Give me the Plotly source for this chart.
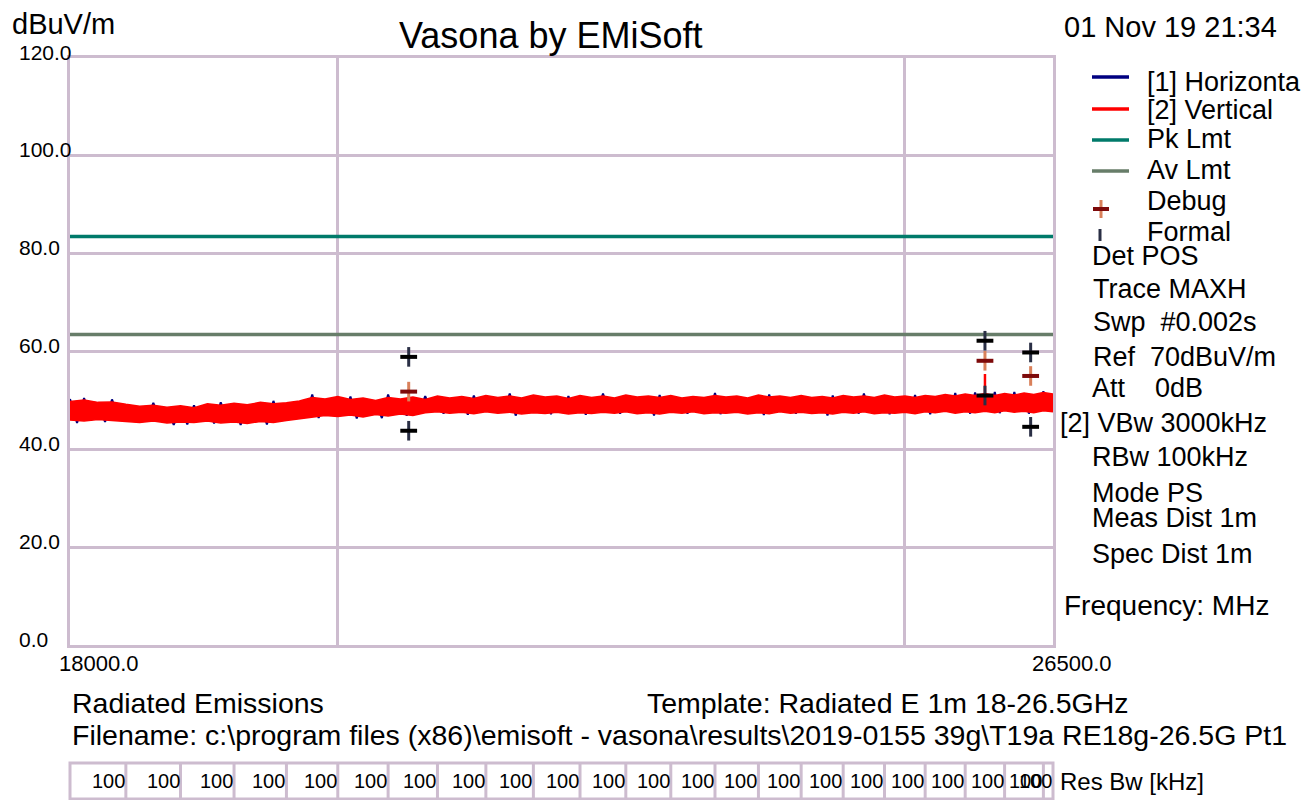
import math
import plotly.graph_objects as go

# ---------------- data ----------------
freq_min, freq_max = 18000, 26500

env_freq = list(range(18000, 26501, 100))
vert_max = [49.8, 50.1, 49.6, 49.7, 49.2, 48.8, 49.0, 48.6, 48.9, 48.5,
            49.3, 49.0, 49.4, 49.1, 49.6, 49.3, 49.5, 49.9, 50.6, 50.3,
            50.8, 50.2, 50.5, 50.0, 50.6, 50.3, 50.7, 50.2, 50.9, 50.5,
            50.8, 50.4, 51.0, 50.6, 50.9, 50.5, 51.1, 50.7, 50.9, 50.4,
            51.0, 50.6, 50.9, 50.5, 51.1, 50.7, 50.9, 50.6, 51.0, 50.5,
            50.8, 50.6, 51.0, 50.7, 50.9, 50.5, 51.1, 50.7, 50.9, 50.6,
            51.0, 50.6, 50.8, 50.5, 51.0, 50.7, 50.9, 50.6, 51.1, 50.7,
            50.9, 50.6, 51.0, 50.8, 51.2, 50.9, 51.3, 51.0, 51.4, 51.0,
            51.4, 51.1, 51.5, 51.2, 51.6, 51.3]
vert_min = [46.0, 45.8, 46.1, 45.9, 45.7, 45.5, 45.8, 45.4, 45.6, 45.5,
            45.8, 45.4, 45.6, 45.3, 45.7, 45.5, 45.9, 46.2, 46.6, 46.9,
            46.7, 47.0, 46.6, 47.1, 46.8, 47.2, 46.9, 47.5, 47.7, 47.4,
            47.6, 47.3, 47.7, 47.4, 47.6, 47.2, 47.5, 47.3, 47.6, 47.2,
            47.5, 47.3, 47.6, 47.4, 47.7, 47.3, 47.5, 47.2, 47.6, 47.4,
            47.7, 47.3, 47.5, 47.4, 47.6, 47.2, 47.5, 47.3, 47.7, 47.4,
            47.6, 47.3, 47.5, 47.2, 47.6, 47.4, 47.7, 47.3, 47.5, 47.4,
            47.6, 47.3, 47.7, 47.5, 47.8, 47.4, 47.7, 47.5, 47.8, 47.5,
            47.9, 47.6, 47.8, 47.5, 47.9, 47.7]

hor_top_freq = list(range(18000, 26501, 100))
hor_top = [50.3, 50.5, 49.4, 50.2, 48.9, 48.6, 49.5, 48.4, 48.7, 49.0,
           49.1, 49.6, 49.2, 48.9, 49.5, 49.9, 49.3, 49.7, 51.2, 50.1,
           50.6, 50.8, 50.3, 49.8, 51.2, 50.1, 50.5, 50.9, 50.7, 50.3,
           50.6, 51.0, 50.8, 50.4, 51.4, 50.3, 50.9, 50.5, 50.7, 50.9,
           50.8, 50.4, 51.4, 50.3, 50.9, 50.5, 50.7, 51.1, 50.8, 50.3,
           50.6, 50.4, 51.5, 50.5, 50.7, 50.3, 50.9, 51.2, 50.7, 50.4,
           50.8, 50.4, 50.6, 51.0, 50.8, 50.5, 51.4, 50.4, 50.9, 50.5,
           50.7, 51.1, 50.8, 50.6, 51.0, 51.5, 51.1, 51.6, 51.2, 51.7,
           51.2, 51.7, 51.3, 51.0, 51.9, 51.1]
hor_bot_freq = list(range(18050, 26451, 100))
hor_bot = [45.4, 45.9, 45.6, 46.0, 45.8, 45.7, 45.8, 45.0, 45.1, 45.8,
           45.3, 45.7, 45.0, 45.6, 45.1, 45.8, 46.2, 46.5, 46.4, 46.9,
           47.0, 46.3, 47.0, 46.4, 47.2, 46.9, 47.4, 47.8, 47.3, 47.7,
           47.1, 47.7, 47.5, 47.8, 46.9, 47.6, 47.6, 47.2, 47.7, 47.6,
           47.1, 47.7, 47.7, 47.3, 47.7, 47.6, 46.9, 47.6, 47.7, 47.3,
           47.7, 47.6, 47.2, 47.7, 47.6, 47.6, 47.0, 47.7, 47.7, 47.3,
           47.7, 47.6, 46.9, 47.6, 47.7, 47.3, 47.7, 47.6, 47.2, 47.7,
           47.6, 47.7, 47.2, 47.8, 47.8, 47.7, 47.3, 47.8, 47.8, 47.4,
           47.9, 47.8, 47.3, 47.9, 47.9]

vert_spike_freq = [25800]
vert_spike_top = [55.4]

pk_limit = 83.5
av_limit = 63.5

formal_freq = [20566, 20566, 25800, 25800, 26268, 26268]
formal_level = [58.9, 43.8, 62.2, 51.0, 59.8, 44.6]
debug_freq = [20566, 25800, 26268]
debug_level = [51.8, 58.1, 55.0]

y_tick_vals = [0, 20, 40, 60, 80, 100, 120]
x_grid_vals = [20000, 25000]
x_tick_vals = [18000, 26500]
x_tick_text = ["18000.0", "26500.0"]

resbw_edges = [18000, 18400, 18800, 19200, 19600, 20000, 20400, 20800,
               21200, 21600, 22000, 22400, 22800, 23200, 23600, 24000,
               24400, 24800, 25200, 25600, 26000, 26400, 26500]
resbw_khz = [100, 100, 100, 100, 100, 100, 100, 100, 100, 100, 100,
             100, 100, 100, 100, 100, 100, 100, 100, 100, 100, 100]

legend_names = ["[1] Horizontal", "[2] Vertical", "Pk Lmt", "Av Lmt", "Debug", "Formal"]
settings_text = ["Det POS", "Trace MAXH", "Swp\u00a0\u00a0#0.002s", "Ref\u00a0\u00a070dBuV/m",
                 "Att\u00a0\u00a0\u00a0\u00a00dB", "[2] VBw 3000kHz", "RBw 100kHz", "Mode PS",
                 "Meas Dist 1m", "Spec Dist 1m"]

# ---------------- styles ----------------
FONT = "Liberation Sans, Arial, sans-serif"
GRID = "#cdbccf"
NAVY = "#000080"
RED = "#ff0000"
TEAL = "#007a6a"
AVC = "#677d69"
FORMAL_H = "#000000"
FORMAL_V = "#2a2f45"
DEBUG_H = "#7d0a0a"
DEBUG_V = "#d9805a"

# page body adds an 8px margin; compensate so the plot lands where the reference has it
OFF = 8
W, H = 1309 - OFF, 800 - OFF
L, R, T, B = 70, 1053, 58, 645  # plot area in reference pixels


def px(x):
    return (x - L) / (R - L)


def py(y):
    return (B - y) / (B - T)


fig = go.Figure()

# Horizontal polarisation trace (zig-zag between peaks and troughs)
hor_x, hor_y = [], []
for i in range(len(hor_bot)):
    hor_x += [hor_top_freq[i], hor_bot_freq[i]]
    hor_y += [hor_top[i], hor_bot[i]]
hor_x.append(hor_top_freq[-1])
hor_y.append(hor_top[-1])
fig.add_trace(go.Scatter(x=hor_x, y=hor_y, mode="lines",
                         line=dict(color=NAVY, width=2), showlegend=False))

# Vertical polarisation trace as envelope band
fig.add_trace(go.Scatter(x=env_freq, y=vert_min, mode="lines",
                         line=dict(color=RED, width=1.5), showlegend=False))
fig.add_trace(go.Scatter(x=env_freq, y=vert_max, mode="lines", fill="tonexty",
                         fillcolor=RED, line=dict(color=RED, width=1.5), showlegend=False))
for f, v in zip(vert_spike_freq, vert_spike_top):
    fig.add_trace(go.Scatter(x=[f, f], y=[vert_max[env_freq.index(f)], v], mode="lines",
                             line=dict(color=RED, width=2.5), showlegend=False))

# Limits
fig.add_trace(go.Scatter(x=[freq_min, freq_max], y=[pk_limit, pk_limit], mode="lines",
                         line=dict(color=TEAL, width=3.5), showlegend=False))
fig.add_trace(go.Scatter(x=[freq_min, freq_max], y=[av_limit, av_limit], mode="lines",
                         line=dict(color=AVC, width=3.5), showlegend=False))

# Markers
fig.add_trace(go.Scatter(x=debug_freq, y=debug_level, mode="markers",
                         marker=dict(symbol="line-ns", size=14, line=dict(color=DEBUG_V, width=3)),
                         showlegend=False))
fig.add_trace(go.Scatter(x=debug_freq, y=debug_level, mode="markers",
                         marker=dict(symbol="line-ew", size=12, line=dict(color=DEBUG_H, width=4)),
                         showlegend=False))
fig.add_trace(go.Scatter(x=formal_freq, y=formal_level, mode="markers",
                         marker=dict(symbol="line-ns", size=14, line=dict(color=FORMAL_V, width=3)),
                         showlegend=False))
fig.add_trace(go.Scatter(x=formal_freq, y=formal_level, mode="markers",
                         marker=dict(symbol="line-ew", size=12, line=dict(color=FORMAL_H, width=4)),
                         showlegend=False))

annotations = []


def txt(s, x, y, size, xanchor="left", xref="paper", yref="paper", xshift=0, yshift=0):
    annotations.append(dict(text=s, x=x, y=y, xref=xref, yref=yref, xanchor=xanchor,
                            yanchor="middle", showarrow=False, xshift=xshift, yshift=yshift,
                            font=dict(family=FONT, size=size, color="black")))


# Header
txt("dBuV/m", px(10), py(24), 29)
txt("Vasona by EMiSoft", px(551), py(36), 36, xanchor="center")
txt("01 Nov 19 21:34", px(1062), py(27), 29)

# Y tick labels
for v in y_tick_vals:
    txt("%.1f" % v, px(17), v, 21, yref="y", yshift=6)

# X tick labels
for v, s, sh in zip(x_tick_vals, x_tick_text, [-13, -23]):
    txt(s, math.log10(v), py(663), 22, xref="x", xshift=sh)

# Legend
legend_y = [82, 110, 139, 170, 201, 232]
for name, yy in zip(legend_names, legend_y):
    txt(name, px(1145), py(yy), 27)

shapes = []
for col, yy in zip([NAVY, RED, TEAL, AVC], [77, 109, 140, 171]):
    shapes.append(dict(type="line", xref="paper", yref="paper", x0=px(1092), x1=px(1129),
                       y0=py(yy), y1=py(yy), line=dict(color=col, width=3.5)))
# legend plus signs
shapes.append(dict(type="line", xref="paper", yref="paper", x0=px(1101), x1=px(1101),
                   y0=py(200), y1=py(218), line=dict(color=DEBUG_V, width=3)))
shapes.append(dict(type="line", xref="paper", yref="paper", x0=px(1093), x1=px(1109),
                   y0=py(209), y1=py(209), line=dict(color=DEBUG_H, width=4)))
shapes.append(dict(type="line", xref="paper", yref="paper", x0=px(1100), x1=px(1100),
                   y0=py(229), y1=py(241), line=dict(color=FORMAL_V, width=3)))

# Settings block
settings_pos = [(1090, 256), (1091, 289), (1091, 322), (1091, 357), (1090, 388),
                (1058, 423), (1090, 457), (1090, 493), (1090, 518), (1090, 554)]
for s, (xx, yy) in zip(settings_text, settings_pos):
    txt(s, px(xx), py(yy), 27)
txt("Frequency: MHz", px(1062), py(605), 28)

# Footer
txt("Radiated Emissions", px(70), py(703), 28.5)
txt("Template: Radiated E 1m 18-26.5GHz", px(645), py(703), 28.5)
txt(r"Filename: c:\program files (x86)\emisoft - vasona\results\2019-0155 39g\T19a RE18g-26.5G Pt1",
    px(70), py(735), 28.5)

# Resolution bandwidth strip
box_top, box_bot = 763, 799
shapes.append(dict(type="rect", xref="paper", yref="paper", x0=0, x1=1,
                   y0=py(box_bot), y1=py(box_top), line=dict(color=GRID, width=3)))
for f in resbw_edges[1:-1]:
    shapes.append(dict(type="line", xref="x", yref="paper", x0=f, x1=f,
                       y0=py(box_bot), y1=py(box_top), line=dict(color=GRID, width=3)))
for f_hi, bw in zip(resbw_edges[1:], resbw_khz):
    txt(str(bw), math.log10(f_hi), py(781), 20, xanchor="right", xref="x", xshift=1)
txt("Res Bw [kHz]", px(1058), py(781), 24)

fig.update_layout(
    width=W, height=H,
    margin=dict(l=L - OFF, r=W - (R - OFF), t=T - OFF, b=H - (B - OFF), pad=0),
    paper_bgcolor="white", plot_bgcolor="white",
    showlegend=False,
    annotations=annotations,
    shapes=shapes,
    font=dict(family=FONT),
    xaxis=dict(type="log", range=[math.log10(freq_min), math.log10(freq_max)],
               tickvals=x_grid_vals, showticklabels=False, ticks="",
               showgrid=True, gridcolor=GRID, gridwidth=3, zeroline=False,
               showline=True, linecolor=GRID, linewidth=3, mirror=True),
    yaxis=dict(range=[0, 120], tickvals=[20, 40, 60, 80, 100], showticklabels=False, ticks="",
               showgrid=True, gridcolor=GRID, gridwidth=3, zeroline=False,
               showline=True, linecolor=GRID, linewidth=3, mirror=True),
)

fig.write_html("out.html")
